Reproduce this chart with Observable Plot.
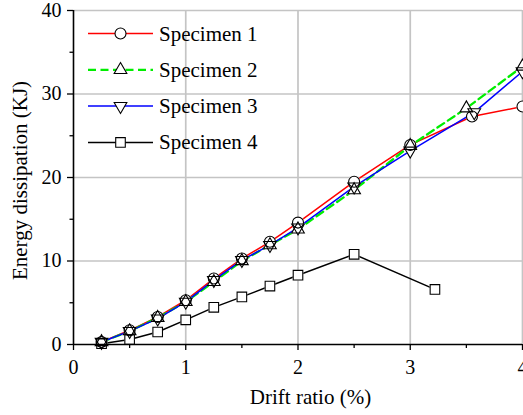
<!DOCTYPE html>
<html>
<head>
<meta charset="utf-8">
<script src="https://cdn.jsdelivr.net/npm/d3@7"></script>
<script src="https://cdn.jsdelivr.net/npm/@observablehq/plot@0.6"></script>
<style>
  html, body { margin: 0; padding: 0; background: #fff; overflow: hidden; }
  #wrap { position: relative; width: 523px; height: 415px; overflow: hidden; }
  #wrap svg { display: block; }
  #legend { position: absolute; left: 0; top: 0; }
</style>
</head>
<body>
<div id="wrap"></div>
<script>
// ---- data ----
const seriesNames = ["Specimen 1", "Specimen 2", "Specimen 3", "Specimen 4"];
const s1Drift = [0.25, 0.5, 0.75, 1.0, 1.25, 1.5, 1.75, 2.0, 2.5, 3.0, 3.55, 4.0];
const s1Energy = [0.3, 1.7, 3.3, 5.3, 7.9, 10.3, 12.3, 14.6, 19.5, 23.9, 27.3, 28.5];
const s2Drift = [0.25, 0.5, 0.75, 1.0, 1.25, 1.5, 1.75, 2.0, 2.5, 3.0, 3.5, 4.0];
const s2Energy = [0.3, 1.6, 3.2, 5.1, 7.5, 10.0, 11.9, 13.8, 18.5, 23.8, 28.3, 33.3];
const s3Drift = [0.25, 0.5, 0.75, 1.0, 1.25, 1.5, 1.75, 2.0, 2.5, 3.0, 3.57, 4.0];
const s3Energy = [0.3, 1.6, 3.1, 5.1, 7.7, 10.1, 11.9, 14.0, 18.9, 23.2, 27.8, 32.7];
const s4Drift = [0.25, 0.5, 0.75, 1.0, 1.25, 1.5, 1.75, 2.0, 2.5, 3.22];
const s4Energy = [0.1, 0.6, 1.5, 2.95, 4.45, 5.7, 7.0, 8.3, 10.8, 6.6];
const xMajorTicks = [0, 1, 2, 3, 4];
const xMinorTicks = [0.5, 1.5, 2.5, 3.5];
const yMajorTicks = [0, 10, 20, 30, 40];
const yMinorTicks = [5, 15, 25, 35];
const xTitle = "Drift ratio (%)";
const yTitle = "Energy dissipation (KJ)";

// ---- styles ----
const FONT = "Liberation Serif";
const triangleDown = {
  draw(context, size) {
    const y = -Math.sqrt(size / (Math.sqrt(3) * 3));
    context.moveTo(0, -y * 2);
    context.lineTo(-Math.sqrt(3) * y, y);
    context.lineTo(Math.sqrt(3) * y, y);
    context.closePath();
  }
};
const styles = [
  {stroke: "#ff0000", dash: null, symbol: "circle", r: 5.5},
  {stroke: "#00ee00", dash: "8,4.5", symbol: "triangle", r: 4.7},
  {stroke: "#0000ff", dash: null, symbol: triangleDown, r: 4.7},
  {stroke: "#000000", dash: null, symbol: "square", r: 5.4}
];

const series = [
  s1Drift.map((x, i) => ({x, y: s1Energy[i]})),
  s2Drift.map((x, i) => ({x, y: s2Energy[i]})),
  s3Drift.map((x, i) => ({x, y: s3Energy[i]})),
  s4Drift.map((x, i) => ({x, y: s4Energy[i]}))
];

const fmt = d3.format("d");
const marks = [];
// grid
marks.push(Plot.ruleX(xMajorTicks.filter(d => d > 0), {stroke: "#c4c4c4", strokeWidth: 1.7}));
marks.push(Plot.ruleY(yMajorTicks.filter(d => d > 0), {stroke: "#c4c4c4", strokeWidth: 1.7}));
// lines
series.forEach((data, i) => {
  const st = styles[i];
  marks.push(Plot.line(data, {x: "x", y: "y", stroke: st.stroke, strokeWidth: i === 1 ? 2.3 : 1.5,
    strokeDasharray: st.dash || undefined}));
});
// white knock-outs for markers
series.forEach((data, i) => {
  const st = styles[i];
  marks.push(Plot.dot(data, {x: "x", y: "y", symbol: st.symbol, r: st.r + 0.6, fill: "white", stroke: "none"}));
});
// marker outlines
series.forEach((data, i) => {
  const st = styles[i];
  marks.push(Plot.dot(data, {x: "x", y: "y", symbol: st.symbol, r: st.r, fill: "none", stroke: "black", strokeWidth: 1.1}));
});
// axes
marks.push(Plot.axisX({ticks: xMajorTicks, tickFormat: fmt, tickSize: 6, tickPadding: 9, fontSize: 20, fontFamily: FONT, label: null, stroke: "black", strokeWidth: 1.3}));
marks.push(Plot.axisX({ticks: xMinorTicks, tickSize: 4, tickFormat: () => "", label: null, stroke: "black", strokeWidth: 1.3}));
marks.push(Plot.axisY({ticks: yMajorTicks, tickFormat: fmt, tickSize: 6, tickPadding: 6, fontSize: 20, fontFamily: FONT, label: null, stroke: "black", strokeWidth: 1.3}));
marks.push(Plot.axisY({ticks: yMinorTicks, tickSize: 3.5, tickFormat: () => "", label: null, stroke: "black", strokeWidth: 1.3}));
marks.push(Plot.ruleY([0], {stroke: "black", strokeWidth: 1.6}));
marks.push(Plot.ruleX([0], {stroke: "black", strokeWidth: 1.6}));
// titles
marks.push(Plot.text([xTitle], {frameAnchor: "bottom", text: d => d, textAnchor: "middle", dx: 12.5, dy: 45, lineAnchor: "top", fontSize: 21, fontFamily: FONT, fill: "black"}));
marks.push(Plot.text([yTitle], {frameAnchor: "left", text: d => d, textAnchor: "middle", rotate: -90, dx: -53, dy: 3, lineAnchor: "middle", fontSize: 21, fontFamily: FONT, fill: "black"}));

const chart = Plot.plot({
  width: 523,
  height: 415,
  marginLeft: 73,
  marginRight: 1,
  marginTop: 10,
  marginBottom: 71,
  style: {fontFamily: FONT, fontSize: "20px", background: "white", color: "black", overflow: "visible"},
  x: {domain: [0, 4]},
  y: {domain: [0, 40]},
  marks
});
document.getElementById("wrap").appendChild(chart);

// ---- legend overlay ----
const leg = d3.select("#wrap").append("svg").attr("id", "legend")
  .attr("width", 523).attr("height", 415);
const rowY0 = 33.5, rowGap = 36.3, lx0 = 88, lx1 = 153, mx = 120.5, tx = 159;
seriesNames.forEach((name, i) => {
  const st = styles[i];
  const y = rowY0 + i * rowGap;
  const g = leg.append("g");
  g.append("line").attr("x1", lx0).attr("x2", lx1).attr("y1", y).attr("y2", y)
    .attr("stroke", st.stroke).attr("stroke-width", i === 1 ? 2.3 : 1.5)
    .attr("stroke-dasharray", st.dash);
  const sym = typeof st.symbol === "string"
    ? {circle: d3.symbolCircle, triangle: d3.symbolTriangle, square: d3.symbolSquare}[st.symbol]
    : st.symbol;
  g.append("path").attr("transform", `translate(${mx},${y})`)
    .attr("d", d3.symbol(sym, Math.PI * st.r * st.r)())
    .attr("fill", "white").attr("stroke", "black").attr("stroke-width", 1.1);
  g.append("text").attr("x", tx).attr("y", y + 7)
    .attr("font-family", FONT).attr("font-size", 21).attr("fill", "black").text(name);
});
</script>
</body>
</html>
